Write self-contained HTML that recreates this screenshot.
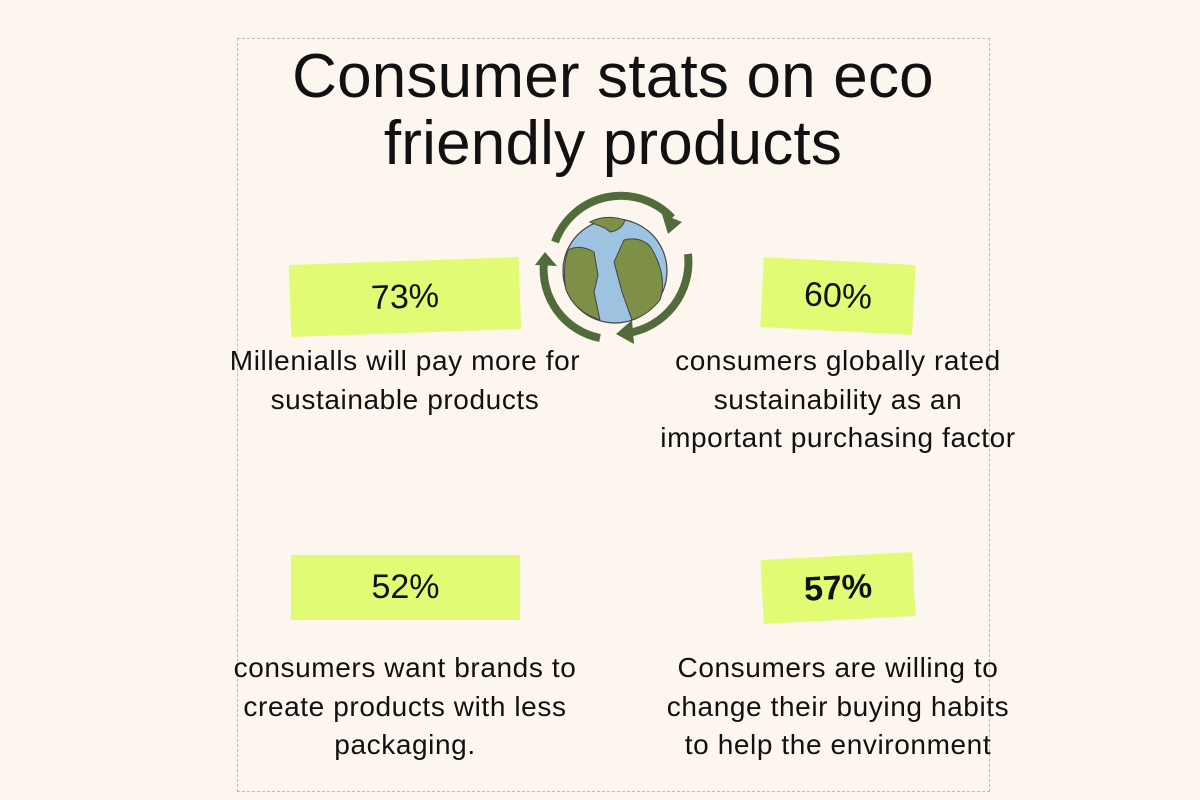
<!DOCTYPE html>
<html><head><style>
body{margin:0;width:1200px;height:800px;background:#fdf6ef;font-family:"Liberation Sans",sans-serif;position:relative;overflow:hidden;color:#111}
.frame{position:absolute;left:237px;top:38px;width:751px;height:752px;border:1.5px dashed #bbb}
.t{position:absolute;left:200px;width:826px;text-align:center;font-size:62px;line-height:67px;letter-spacing:0.2px}
.box{position:absolute;background:#e2fb75;font-size:34px;display:flex;align-items:center;justify-content:center}
.tx{position:absolute;font-size:28px;line-height:38.5px;text-align:center;width:480px;letter-spacing:0.6px}
</style></head><body>
<div class="frame"></div>
<div class="t" style="top:43px">Consumer stats on eco<br>friendly products</div>
<svg style="position:absolute;left:520px;top:186px" width="200" height="170" viewBox="520 186 200 170">
<g fill="none" stroke="#526b3b" stroke-width="8">
<path d="M555 242 A70 70 0 0 1 672 218"/>
<path d="M688 254 A72 72 0 0 1 628 333"/>
<path d="M600 338 A70 70 0 0 1 544 262"/>
</g>
<g fill="#526b3b">
<polygon points="662,214 682,222 668,234"/>
<polygon points="616,334 632,320 634,344"/>
<polygon points="535,265 545,252 557,266"/>
</g>
<circle cx="615" cy="271" r="52" fill="#9dc3e0" stroke="#444" stroke-width="1.2"/>
<path d="M568 250 Q580 244 594 252 L598 275 L594 292 L600 320 Q575 312 566 290 Q562 270 568 250 Z" fill="#7e8f48" stroke="#444" stroke-width="1"/>
<path d="M624 240 Q640 236 650 246 Q668 275 660 300 Q648 315 632 320 L622 292 L614 262 Z" fill="#7e8f48" stroke="#444" stroke-width="1"/>
<path d="M590 222 Q605 214 625 220 Q622 230 610 232 L605 228 Z" fill="#7e8f48" stroke="#444" stroke-width="1"/>
</svg>
<div class="box" style="left:290px;top:261px;width:230px;height:72px;transform:rotate(-2deg)">73%</div>
<div class="box" style="left:762px;top:261px;width:152px;height:70px;transform:rotate(3deg)">60%</div>
<div class="box" style="left:291px;top:555px;width:229px;height:65px">52%</div>
<div class="box" style="left:762px;top:556px;width:152px;height:64px;transform:rotate(-3deg);font-weight:bold">57%</div>
<div class="tx" style="left:165px;top:342px">Millenialls will pay more for<br>sustainable products</div>
<div class="tx" style="left:598px;top:342px">consumers globally rated<br>sustainability as an<br>important purchasing factor</div>
<div class="tx" style="left:165px;top:649px">consumers want brands to<br>create products with less<br>packaging.</div>
<div class="tx" style="left:598px;top:649px">Consumers are willing to<br>change their buying habits<br>to help the environment</div>
</body></html>
